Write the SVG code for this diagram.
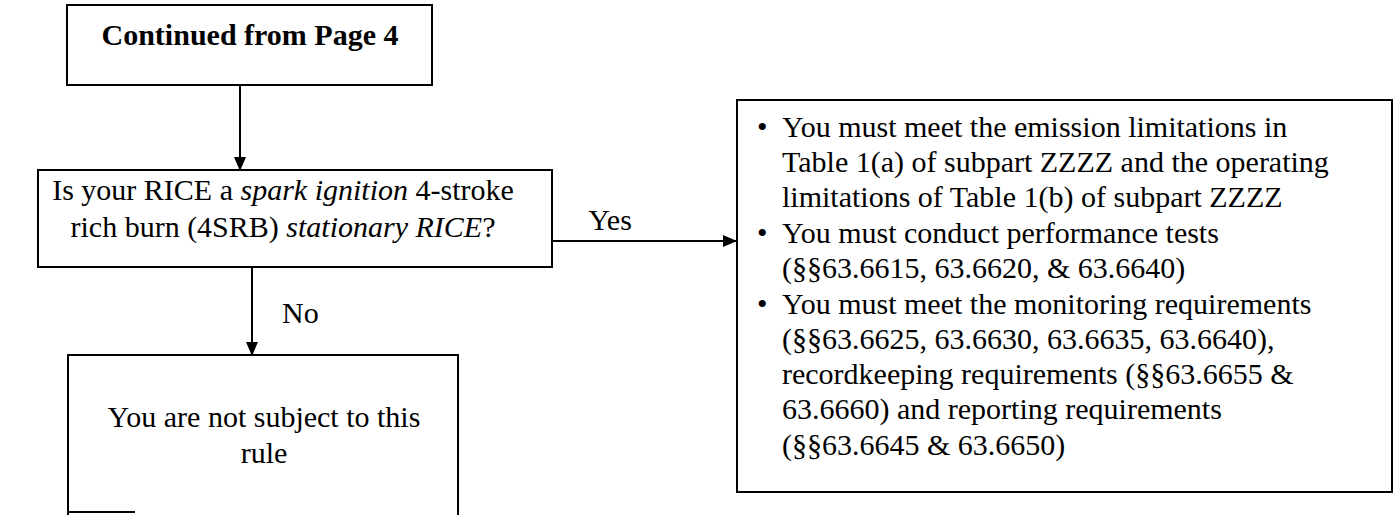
<svg xmlns="http://www.w3.org/2000/svg" width="1396" height="515" viewBox="0 0 1396 515">
<style>
.box{fill:#fff;stroke:#000;stroke-width:2}
.t{font-family:"Liberation Serif","Times New Roman",serif;font-size:30px;fill:#000}
.b{font-weight:bold}
.i{font-style:italic}
.c{stroke:#000;stroke-width:2;fill:none}
</style>
<defs>
<marker id="ah" markerWidth="14" markerHeight="12" refX="13" refY="6" orient="auto" markerUnits="userSpaceOnUse">
<path d="M0,0 L14,6 L0,12 Z" fill="#000"/>
</marker>
</defs>
<rect width="1396" height="515" fill="#fff"/>
<g id="connectors">
<line class="c" x1="240" y1="85" x2="240" y2="170" marker-end="url(#ah)"/>
<line class="c" x1="252" y1="267" x2="252" y2="355" marker-end="url(#ah)"/>
<line class="c" x1="552" y1="241" x2="736" y2="241" marker-end="url(#ah)"/>
<text class="t" x="610" y="230" text-anchor="middle">Yes</text>
<text class="t" x="282" y="323">No</text>
</g>
<g id="start">
<rect class="box" x="67" y="5" width="365" height="80"/>
<text class="t b" x="250" y="45" text-anchor="middle">Continued from Page 4</text>
</g>
<g id="question">
<rect class="box" x="38" y="170" width="514" height="97"/>
<text class="t" x="283" y="200" text-anchor="middle">Is your RICE a <tspan class="i">spark ignition</tspan> 4-stroke</text>
<text class="t" x="283" y="237" text-anchor="middle">rich burn (4SRB) <tspan class="i">stationary RICE</tspan>?</text>
</g>
<g id="no-result">
<path class="c" d="M68,520 L68,355 L458,355 L458,520"/>
<line class="c" x1="68" y1="512" x2="135" y2="512"/>
<text class="t" x="264" y="427" text-anchor="middle">You are not subject to this</text>
<text class="t" x="264" y="463" text-anchor="middle">rule</text>
</g>
<g id="yes-result">
<rect class="box" x="737" y="100" width="655" height="392"/>
<g class="t">
<text x="757" y="137">•</text>
<text x="782" y="137">You must meet the emission limitations in</text>
<text x="782" y="172">Table 1(a) of subpart ZZZZ and the operating</text>
<text x="782" y="207">limitations of Table 1(b) of subpart ZZZZ</text>
<text x="757" y="243">•</text>
<text x="782" y="243">You must conduct performance tests</text>
<text x="782" y="278">(§§63.6615, 63.6620, &amp; 63.6640)</text>
<text x="757" y="314">•</text>
<text x="782" y="314">You must meet the monitoring requirements</text>
<text x="782" y="349">(§§63.6625, 63.6630, 63.6635, 63.6640),</text>
<text x="782" y="384">recordkeeping requirements (§§63.6655 &amp;</text>
<text x="782" y="419">63.6660) and reporting requirements</text>
<text x="782" y="455">(§§63.6645 &amp; 63.6650)</text>
</g>
</g>
</svg>
